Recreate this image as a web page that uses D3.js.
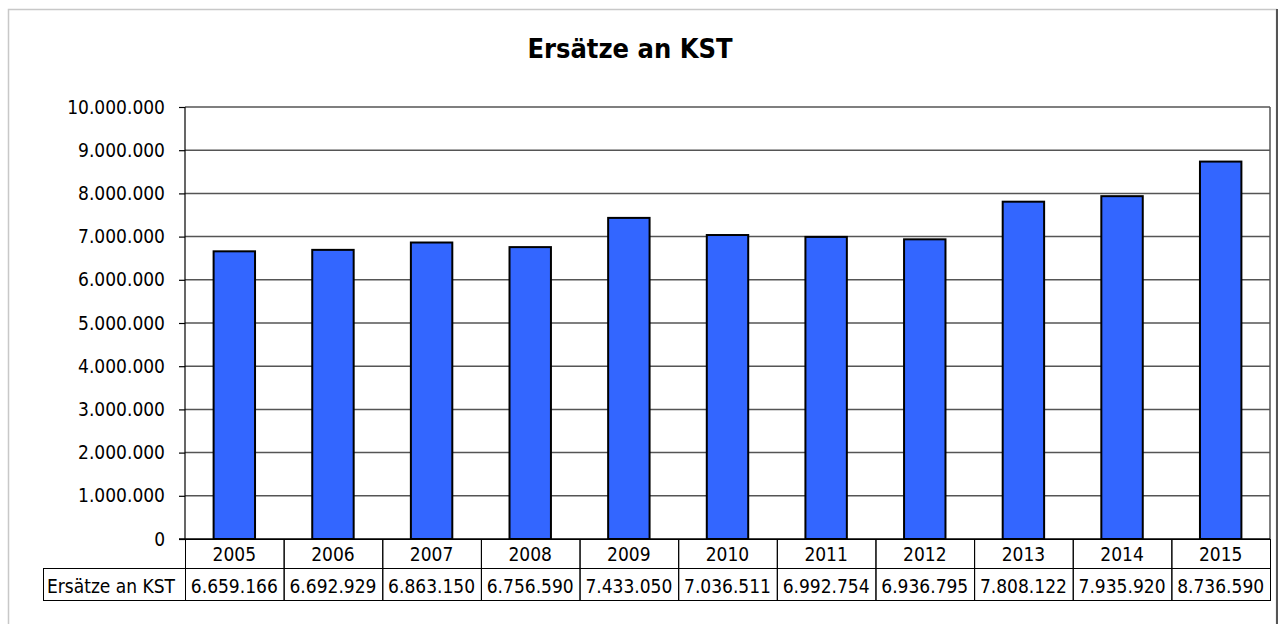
<!DOCTYPE html>
<html>
  <head>
    <meta charset="utf-8">
    <title>Ersätze an KST</title>
    <style>
    body { margin: 0; border: 0; overflow: hidden; background: #fff; }
    text {
      font-family: "DejaVu Sans Condensed", "DejaVu Sans", sans-serif;
      font-size: 19px;
      fill: #000;
    }
    .title { font-size: 27px; font-weight: bold; }
    .grid line { stroke: #555; stroke-width: 1.5px; }
    .axis path, .axis line { fill: none; stroke: #000; stroke-width: 1.2px; }
    .cell { fill: none; stroke: #000; stroke-width: 1px; }
    .bar { fill: #3366ff; stroke: #000; stroke-width: 2px; }
    </style>
  </head>
  <body>
    <script src="https://cdnjs.cloudflare.com/ajax/libs/d3/7.8.5/d3.min.js"></script>
    <script>
var years = ["2005", "2006", "2007", "2008", "2009", "2010", "2011", "2012", "2013", "2014", "2015"];
var values = [6659166, 6692929, 6863150, 6756590, 7433050, 7036511, 6992754, 6936795, 7808122, 7935920, 8736590];
var series_name = "Ersätze an KST";
var title_text = "Ersätze an KST";
var y_ticks = [0, 1000000, 2000000, 3000000, 4000000, 5000000, 6000000, 7000000, 8000000, 9000000, 10000000];

var width = 1280, height = 624,
    plot = ({left: 185, right: 1270, top: 107, bottom: 539}),
    row_h = ({years: 29, values: 32}),
    label_left = 43;

var fmt = d3.formatLocale({decimal: ",", thousands: ".", grouping: [3], currency: ["", "€"]}).format(",d");

var svg = d3.select("body").append("svg")
    .attr("width", width)
    .attr("height", height);

// outer frame
svg.append("rect")
  .attr("x", 8.5).attr("y", 9.5)
  .attr("width", 1268).attr("height", 640)
  .attr("fill", "none")
  .attr("stroke", "#c8c8c8")
  .attr("stroke-width", 1.5);
svg.append("line")
  .attr("x1", 1277).attr("x2", 1277)
  .attr("y1", 9).attr("y2", height)
  .attr("stroke", "#555").attr("stroke-width", 2);

svg.append("text")
  .attr("class", "title")
  .attr("x", 630)
  .attr("y", 58)
  .attr("text-anchor", "middle")
  .text(title_text);

var x_scale = d3.scaleBand()
    .domain(years)
    .range([plot.left, plot.right])
    .paddingInner(0.58)
    .paddingOuter(0.29);

var col_scale = d3.scaleBand()
    .domain(years)
    .range([plot.left, plot.right]);

var y_scale = d3.scaleLinear()
    .domain([0, 10000000])
    .range([plot.bottom, plot.top]);

// gridlines
svg.append("g")
  .attr("class", "grid")
  .selectAll("line")
  .data(y_ticks.slice(1))
  .enter()
  .append("line")
  .attr("x1", plot.left).attr("x2", plot.right)
  .attr("y1", function(d) { return y_scale(d); })
  .attr("y2", function(d) { return y_scale(d); });

svg.append("line")
  .attr("x1", plot.right).attr("x2", plot.right)
  .attr("y1", plot.top).attr("y2", plot.bottom)
  .attr("stroke", "#555").attr("stroke-width", 1.5);

// bars
svg.append("g")
  .selectAll("rect")
  .data(values)
  .enter()
  .append("rect")
  .attr("class", "bar")
  .attr("x", function(d, i) { return x_scale(years[i]); })
  .attr("width", x_scale.bandwidth())
  .attr("y", function(d) { return y_scale(d); })
  .attr("height", function(d) { return plot.bottom - y_scale(d); });

// y axis
var y_axis = d3.axisLeft(y_scale)
  .tickValues(y_ticks)
  .tickSize(6)
  .tickPadding(14)
  .tickFormat(fmt);

var y_g = svg.append("g")
  .attr("class", "axis")
  .attr("transform", "translate(" + plot.left + ",0)")
  .call(y_axis);
y_g.select(".domain").remove();
y_g.append("line")
  .attr("x1", 0).attr("x2", 0)
  .attr("y1", plot.top).attr("y2", plot.bottom);
y_g.attr("font-family", null).attr("font-size", null);

// baseline
svg.append("line")
  .attr("x1", plot.left - 6).attr("x2", plot.right)
  .attr("y1", plot.bottom).attr("y2", plot.bottom)
  .attr("stroke", "#000").attr("stroke-width", 1.5);

// data table
var table = svg.append("g").attr("class", "table");
var y_top = plot.bottom,
    y_mid = plot.bottom + row_h.years,
    y_bot = y_mid + row_h.values;

table.selectAll("rect.year")
  .data(years)
  .enter()
  .append("rect")
  .attr("class", "cell")
  .attr("x", function(d) { return col_scale(d) + 0.5; })
  .attr("y", y_top + 0.5)
  .attr("width", col_scale.bandwidth())
  .attr("height", row_h.years);

table.selectAll("rect.val")
  .data(years)
  .enter()
  .append("rect")
  .attr("class", "cell")
  .attr("x", function(d) { return col_scale(d) + 0.5; })
  .attr("y", y_mid + 0.5)
  .attr("width", col_scale.bandwidth())
  .attr("height", row_h.values);

table.append("rect")
  .attr("class", "cell")
  .attr("x", label_left + 0.5)
  .attr("y", y_mid + 0.5)
  .attr("width", plot.left - label_left)
  .attr("height", row_h.values);

table.selectAll("text.year")
  .data(years)
  .enter()
  .append("text")
  .attr("x", function(d) { return col_scale(d) + col_scale.bandwidth() / 2; })
  .attr("y", y_mid - 7)
  .attr("text-anchor", "middle")
  .text(function(d) { return d; });

table.selectAll("text.val")
  .data(values)
  .enter()
  .append("text")
  .attr("x", function(d, i) { return col_scale(years[i]) + col_scale.bandwidth() / 2; })
  .attr("y", y_bot - 7)
  .attr("text-anchor", "middle")
  .text(function(d) { return fmt(d); });

table.append("text")
  .attr("x", label_left + 4)
  .attr("y", y_bot - 7)
  .text(series_name);
    </script>
  </body>
</html>
